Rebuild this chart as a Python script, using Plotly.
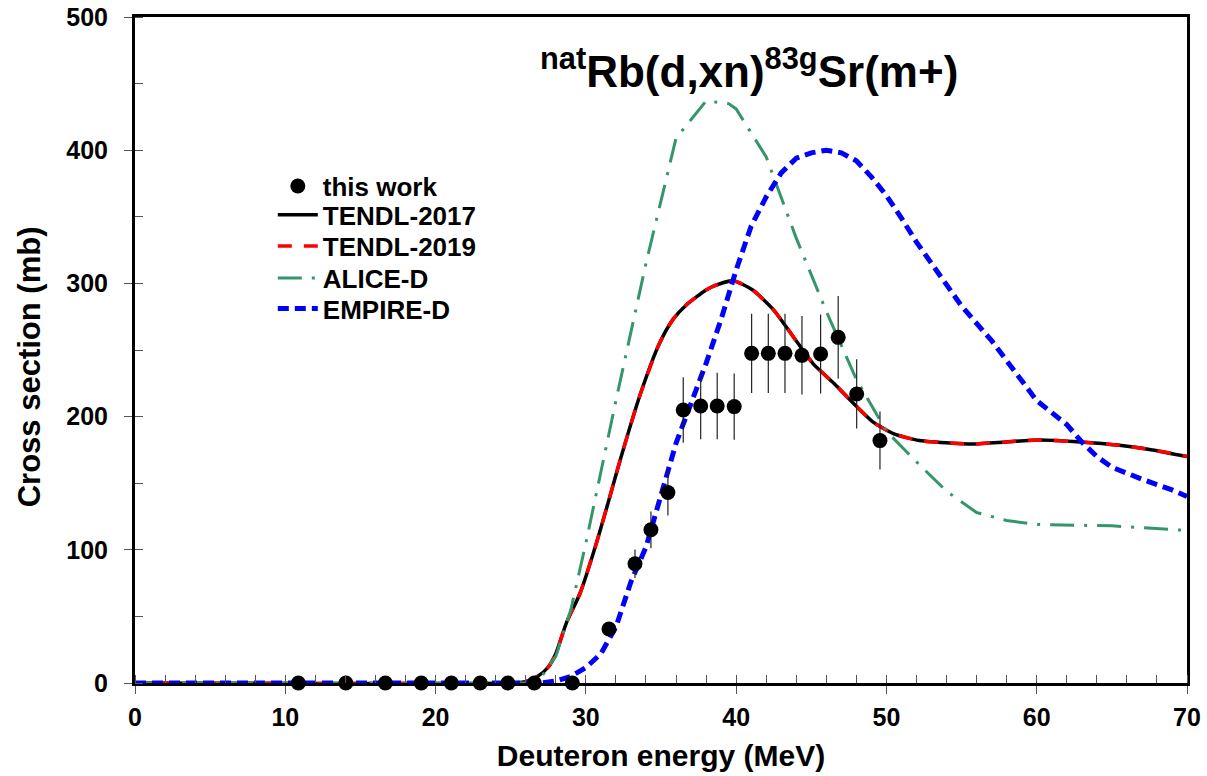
import plotly.graph_objects as go

# ---------------- data ----------------
exp_E = [10.87, 14.03, 16.66, 19.05, 21.05, 22.97, 24.81, 26.57, 29.10,
         31.54, 33.27, 34.33, 35.46, 36.48, 37.64, 38.74, 39.87,
         41.03, 42.14, 43.25, 44.38, 45.62, 46.79, 48.02, 49.57]
exp_xs = [0, 0, 0, 0, 0, 0, 0, 0, 0,
          40.5, 89.5, 115, 143, 205, 208, 208, 207.5,
          247.5, 247.5, 247.5, 246, 247, 259.5, 217, 182]
exp_err = [0, 0, 0, 0, 0, 0, 0, 0, 0,
           4.8, 10.7, 13.8, 17.2, 24.6, 25.0, 25.0, 24.9,
           29.7, 29.7, 29.7, 29.5, 29.6, 31.1, 26.0, 21.8]

tendl_E = [0, 25, 26, 26.8, 27.5, 28.0, 28.7, 29.6, 30.7, 31.6, 32.3, 33.6,
           34.9, 35.8, 36.7, 38.0, 38.5, 39.8, 41.1, 42.5, 43.8, 45.1, 46.5,
           47.8, 49.1, 50.5, 52.2, 54.4, 55.8, 58.0, 60.2, 62.9, 65.5, 67.7, 70]
tendl_xs = [0, 0, 1, 5, 12, 22, 45, 67, 105, 140, 168, 216,
            255, 273, 284, 295, 298, 302, 295, 280, 260, 240, 225,
            210, 196, 187, 182, 180, 179.5, 181, 182.5, 181, 178.5, 175, 170]

alice_E = [0, 26, 27, 28, 29, 30, 32, 34, 36, 38, 39.5, 40, 42, 44, 46, 48,
           50, 52, 54, 56, 58, 60, 65, 70]
alice_xs = [0, 0, 4, 20, 55, 105, 212, 315, 409, 437, 435, 431, 395, 334, 279, 228,
            189, 166, 144, 128, 122, 119, 118, 114.5]

empire_E = [0, 27, 28, 29, 30, 31, 32, 33, 34, 35, 36, 37, 38, 39, 40, 41, 42,
            43, 44, 45, 46, 47, 48, 49, 50, 51, 52, 53, 54, 55, 56, 57, 58, 59,
            60, 61, 62, 63, 64, 65, 66, 67, 68, 69, 70]
empire_xs = [0, 0, 1.5, 5, 11.5, 22, 42, 76, 102, 140, 180, 210, 240, 273, 310, 343, 365,
             383, 394, 398, 400, 398, 392, 380, 366, 349, 331, 315, 299, 283, 270, 257, 242, 227,
             212, 203, 194, 181, 170, 162, 157, 153, 149, 145, 140]

x_ticks = [0, 10, 20, 30, 40, 50, 60, 70]
y_ticks = [0, 100, 200, 300, 400, 500]

FONT = "Liberation Sans, Arial, sans-serif"

fig = go.Figure()

fig.add_trace(go.Scatter(x=tendl_E, y=tendl_xs, mode="lines", name="TENDL-2017",
                         line=dict(color="black", width=3.5, shape="spline", smoothing=0.6),
                         legend="legend2"))
fig.add_trace(go.Scatter(x=tendl_E, y=tendl_xs, mode="lines", name="TENDL-2019",
                         line=dict(color="#ff0000", width=3.5, dash="14px,12px",
                                   shape="spline", smoothing=0.6),
                         legend="legend3"))
fig.add_trace(go.Scatter(x=alice_E, y=alice_xs, mode="lines", name="ALICE-D",
                         line=dict(color="#35966a", width=3, dash="24px,10px,3px,10px"),
                         legend="legend4"))
fig.add_trace(go.Scatter(x=empire_E, y=empire_xs, mode="lines", name="EMPIRE-D",
                         line=dict(color="#0000ff", width=5, dash="11px,6px"),
                         legend="legend5"))
fig.add_trace(go.Scatter(x=exp_E, y=exp_xs, mode="markers", name="this work",
                         marker=dict(color="black", size=15),
                         error_y=dict(type="data", array=exp_err, visible=True,
                                      color="#222", thickness=1.2, width=0),
                         cliponaxis=False, legend="legend"))
# overlay axes for the inward half of the major ticks
fig.add_trace(go.Scatter(x=[None], y=[None], xaxis="x2", yaxis="y2",
                         showlegend=False, hoverinfo="skip"))

tickfont = dict(family=FONT, size=25, color="black", weight="bold")
titlefont = dict(family=FONT, size=30, color="black", weight="bold")
legfont = dict(family=FONT, size=26, color="black", weight="bold")


def leg(y):
    return dict(x=0.131, y=y, xanchor="left", yanchor="middle",
                bgcolor="rgba(0,0,0,0)", borderwidth=0, font=legfont,
                itemwidth=40)


fig.update_layout(
    width=1207, height=776,
    margin=dict(l=135, r=20, t=17, b=93),
    paper_bgcolor="white", plot_bgcolor="white",
    font=dict(family=FONT, color="black"),
    showlegend=True,
    legend=leg(0.746), legend2=leg(0.703), legend3=leg(0.656),
    legend4=leg(0.608), legend5=leg(0.562),
    xaxis=dict(range=[0, 70], tickvals=x_ticks, ticktext=[str(v) for v in x_ticks],
               ticks="outside", ticklen=8, tickwidth=1, tickcolor="#555",
               minor=dict(dtick=2, ticks="inside", ticklen=8, tickwidth=1, tickcolor="#555"),
               showline=True, linecolor="black", linewidth=3, mirror=True,
               showgrid=False, zeroline=False, tickfont=tickfont, automargin=False,
               ticklabelstandoff=2, ticklabeloverflow="allow",
               title=dict(text="Deuteron energy (MeV)", font=titlefont, standoff=15)),
    yaxis=dict(range=[0, 500], tickvals=y_ticks, ticktext=[str(v) for v in y_ticks],
               ticks="outside", ticklen=8, tickwidth=1, tickcolor="#555",
               minor=dict(dtick=50, ticks="inside", ticklen=8, tickwidth=1, tickcolor="#555"),
               showline=True, linecolor="black", linewidth=3, mirror=True,
               showgrid=False, zeroline=False, tickfont=tickfont, automargin=False,
               ticklabelstandoff=11, ticklabeloverflow="allow"),
    xaxis2=dict(range=[0, 70], overlaying="x", anchor="y2", side="bottom",
                tickvals=x_ticks, ticks="inside", ticklen=8, tickwidth=1, tickcolor="#555",
                showticklabels=False, showline=False, showgrid=False, zeroline=False,
                automargin=False),
    yaxis2=dict(range=[0, 500], overlaying="y", anchor="x2", side="left",
                tickvals=y_ticks, ticks="inside", ticklen=8, tickwidth=1, tickcolor="#555",
                showticklabels=False, showline=False, showgrid=False, zeroline=False,
                automargin=False),
)

# y-axis title (placed slightly below the axis centre, as in the original)
fig.add_annotation(
    text="Cross section (mb)", textangle=-90,
    xref="paper", yref="paper", x=0, y=0.474, xshift=-106,
    xanchor="center", yanchor="middle", showarrow=False,
    font=dict(family=FONT, size=31, color="black", weight="bold"),
)

fig.add_annotation(
    text="<sup>nat</sup>Rb(d,xn)<sup>83g</sup>Sr(m+)",
    xref="paper", yref="paper", x=0.584, y=0.922,
    xanchor="center", yanchor="middle", showarrow=False,
    font=dict(family=FONT, size=44, color="black", weight="bold"),
)

# remove the browser's default 8px body margin so the figure sits at the page origin
fig.write_html("out.html", config={"displayModeBar": False},
               post_script="document.body.style.margin='0';document.body.style.overflow='hidden';")
